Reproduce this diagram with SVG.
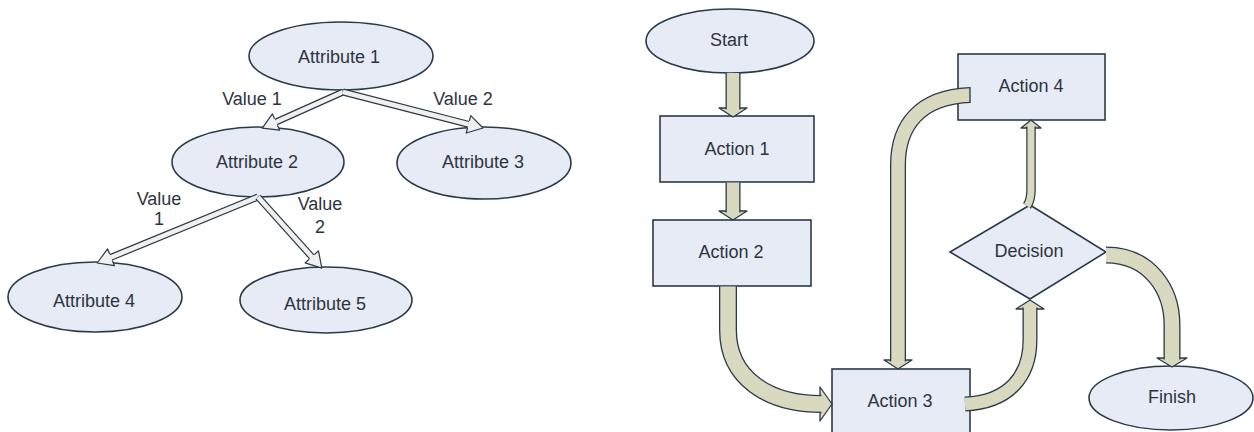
<svg xmlns="http://www.w3.org/2000/svg" width="1254" height="432" viewBox="0 0 1254 432">
<style>
.n{fill:#e6ebf5;stroke:#2b3a48;stroke-width:1.6}
.t{font-family:"Liberation Sans",Arial,sans-serif;font-size:18px;fill:#2d3440;text-anchor:middle}
.ho{fill:none;stroke:#2b3a48;stroke-width:7}
.hi{fill:none;stroke:#f0f0f0;stroke-width:4.6}
.fo{fill:none;stroke:#2b3a48}
.fi{fill:none;stroke:#d9d9bf}
.fh{fill:#d9d9bf;stroke:#2b3a48;stroke-width:1.3;stroke-linejoin:round}
</style>
<defs>
<marker id="hh" markerUnits="userSpaceOnUse" viewBox="-1 -1 18 20" markerWidth="18" markerHeight="20" refX="0" refY="9" orient="auto">
<polygon points="0,0 15,9 0,18" fill="#f0f0f0"/>
<path d="M0,5.5 L0,0 L15,9 L0,18 L0,12.5" fill="none" stroke="#2b3a48" stroke-width="1.2" stroke-linejoin="round"/>
</marker>
</defs>
<rect width="1254" height="432" fill="#ffffff"/>

<g id="attr1"><ellipse class="n" cx="341" cy="56" rx="92" ry="34"/><text class="t" x="339" y="63">Attribute 1</text></g>
<g id="attr2"><ellipse class="n" cx="258" cy="162" rx="86" ry="35"/><text class="t" x="257" y="168">Attribute 2</text></g>
<g id="attr3"><ellipse class="n" cx="484" cy="163" rx="87" ry="36"/><text class="t" x="483" y="168">Attribute 3</text></g>
<g id="attr4"><ellipse class="n" cx="95" cy="297" rx="87" ry="35"/><text class="t" x="94" y="307">Attribute 4</text></g>
<g id="attr5"><ellipse class="n" cx="326" cy="300" rx="86" ry="33"/><text class="t" x="325" y="310">Attribute 5</text></g>

<g id="start"><ellipse class="n" cx="730" cy="41" rx="84" ry="32"/><text class="t" x="729" y="46">Start</text></g>
<g id="action1"><rect class="n" x="660" y="116" width="154" height="66"/><text class="t" x="737" y="155">Action 1</text></g>
<g id="action2"><rect class="n" x="653" y="220" width="158" height="66"/><text class="t" x="731" y="258">Action 2</text></g>
<g id="action3"><rect class="n" x="832" y="369" width="138" height="80"/><text class="t" x="900" y="407">Action 3</text></g>
<g id="action4"><rect class="n" x="958" y="54" width="147" height="66"/><text class="t" x="1031" y="92">Action 4</text></g>
<g id="decision"><polygon class="n" points="1030,205 1106,252 1030,299 950,252"/><text class="t" x="1029" y="257">Decision</text></g>
<g id="finish"><ellipse class="n" cx="1171" cy="398" rx="82" ry="32"/><text class="t" x="1172" y="403">Finish</text></g>

<g id="connectors">
<g id="tree-arrows">
<path class="ho" d="M343,92 L276,122"/><path class="hi" d="M343,92 L276,122" marker-end="url(#hh)"/>
<path class="ho" d="M343,92 L468.5,124.3"/><path class="hi" d="M343,92 L468.5,124.3" marker-end="url(#hh)"/>
<path class="ho" d="M258,197 L111,257.3"/><path class="hi" d="M258,197 L111,257.3" marker-end="url(#hh)"/>
<path class="ho" d="M258,197 L311.8,256.9"/><path class="hi" d="M258,197 L311.8,256.9" marker-end="url(#hh)"/>
<text class="t" x="252" y="105">Value 1</text>
<text class="t" x="463" y="105">Value 2</text>
<text class="t" x="159" y="205">Value</text>
<text class="t" x="159" y="225">1</text>
<text class="t" x="320" y="210">Value</text>
<text class="t" x="320" y="233">2</text>
</g>
<g id="flow-arrows">
<polygon class="fh" points="719,108 747,108 733,117"/>
<path class="fo" stroke-width="15" d="M733,73 L733,109.5"/><path class="fi" stroke-width="12.4" d="M733,73 L733,110"/>

<polygon class="fh" points="719,211 747,211 733,220"/>
<path class="fo" stroke-width="15" d="M733,182.5 L733,212.5"/><path class="fi" stroke-width="12.4" d="M733,182.5 L733,213"/>

<polygon class="fh" points="820,387 820,421 832,404"/>
<path class="fo" stroke-width="18" d="M728,286.5 L728,330 C728,378 768,404 821.5,404"/><path class="fi" stroke-width="15.4" d="M728,286.5 L728,330 C728,378 768,404 822,404"/>

<polygon class="fh" points="884,360 912,360 898,369"/>
<path class="fo" stroke-width="16" d="M970,95 C920,97 898,125 898,165 L898,361.5"/><path class="fi" stroke-width="13.4" d="M970,95 C920,97 898,125 898,165 L898,362"/>
<line x1="970" y1="87" x2="970" y2="103" stroke="#2b3a48" stroke-width="1.3"/>

<polygon class="fh" points="1016,309 1044,309 1030,300"/>
<path class="fo" stroke-width="15" d="M965,404 C1010,402 1030,375 1030,340 L1030,307.5"/><path class="fi" stroke-width="12.4" d="M965,404 C1010,402 1030,375 1030,340 L1030,307"/>

<polygon class="fh" points="1021,128 1041,128 1031,120"/>
<path class="fo" stroke-width="9.5" d="M1027,206 Q1031,200 1031,190 L1031,126.5"/><path class="fi" stroke-width="7" d="M1027,206 Q1031,200 1031,190 L1031,126"/>

<polygon class="fh" points="1157,358 1187,358 1172,367"/>
<path class="fo" stroke-width="17" d="M1106,255 C1150,255 1172,290 1172,325 L1172,359.5"/><path class="fi" stroke-width="14.4" d="M1106,255 C1150,255 1172,290 1172,325 L1172,360"/>
</g>
</g>
</svg>
